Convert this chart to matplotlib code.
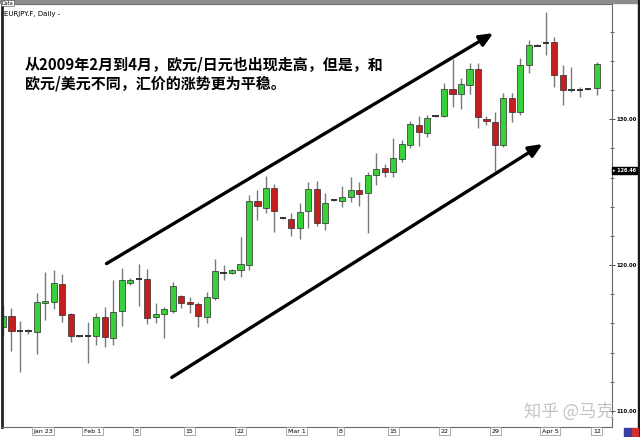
from matplotlib import pyplot as plt
import matplotlib.transforms as mtrans
import matplotlib.ticker as tck
import numpy as np

plt.rcParams['font.family'] = ['Noto Sans CJK SC', 'DejaVu Sans']

# EUR/JPY daily candles (open, high, low, close)
opens  = [115.75, 116.51, 115.48, 115.45, 115.41, 117.40, 117.47, 118.70, 116.64, 115.14,
          115.12, 115.14, 116.44, 115.00, 116.85, 118.77, 119.04, 119.04, 116.44, 116.64,
          116.85, 117.88, 117.47, 117.33, 116.44, 117.74, 119.45, 119.45, 119.66, 120.00,
          124.38, 123.90, 125.27, 123.22, 123.15, 122.53, 123.70, 125.21, 122.88, 124.45,
          124.38, 124.66, 125.14, 124.93, 126.16, 126.64, 126.37, 127.26, 128.22, 129.59,
          129.04, 130.21, 130.21, 132.05, 131.71, 132.33, 133.42, 130.00, 129.79, 128.22,
          131.44, 130.48, 133.70, 135.07, 135.27, 135.27, 133.01, 131.99, 132.05, 132.05,
          132.12]
highs  = [117.26, 117.05, 116.16, 115.62, 118.08, 119.52, 119.66, 119.38, 116.71, 115.21,
          116.10, 116.71, 117.12, 118.97, 119.79, 119.11, 120.07, 119.73, 117.40, 117.12,
          118.84, 117.95, 117.81, 117.47, 118.15, 120.41, 120.00, 119.73, 121.92, 124.79,
          125.14, 126.10, 125.55, 123.29, 123.56, 124.25, 125.68, 125.75, 124.93, 124.52,
          125.41, 126.03, 125.68, 126.37, 127.67, 126.92, 128.70, 128.56, 129.86, 130.21,
          130.27, 130.27, 132.47, 134.11, 132.81, 133.84, 133.84, 130.21, 130.48, 131.78,
          131.78, 134.18, 135.41, 135.14, 137.33, 135.62, 133.70, 133.56, 132.19, 132.12,
          133.90]
lows   = [115.21, 114.11, 112.67, 115.27, 113.90, 116.23, 116.99, 116.10, 114.73, 115.07,
          113.29, 114.52, 114.38, 114.52, 115.82, 118.63, 117.19, 115.96, 116.03, 115.00,
          116.71, 117.05, 116.71, 115.75, 116.03, 117.60, 118.97, 119.38, 119.18, 119.66,
          123.08, 123.56, 122.26, 123.15, 121.99, 121.78, 122.53, 122.67, 122.40, 124.38,
          123.97, 124.31, 124.04, 122.19, 125.48, 126.03, 126.03, 127.05, 128.01, 128.15,
          128.77, 130.14, 130.14, 130.82, 130.69, 131.71, 129.38, 129.59, 126.44, 128.08,
          129.79, 130.27, 133.15, 135.00, 134.38, 132.19, 130.96, 131.85, 131.51, 131.99,
          131.64]
closes = [116.51, 115.48, 115.45, 115.48, 117.47, 117.53, 118.77, 116.58, 115.14, 115.12,
          115.14, 116.44, 115.07, 116.78, 118.97, 118.97, 119.02, 116.37, 116.64, 116.99,
          118.56, 117.40, 117.33, 116.51, 117.81, 119.59, 119.43, 119.66, 120.07, 124.38,
          124.04, 125.27, 123.70, 123.20, 122.53, 123.63, 125.21, 122.88, 124.25, 124.43,
          124.66, 125.14, 124.86, 126.16, 126.58, 126.37, 127.33, 128.29, 129.66, 129.11,
          130.07, 130.19, 132.05, 131.71, 132.40, 133.42, 130.14, 129.86, 128.22, 131.44,
          130.48, 133.70, 135.07, 135.05, 135.25, 133.01, 131.99, 131.97, 132.03, 132.07,
          133.77]

date_ticks  = [4, 10, 16, 22, 28, 34, 40, 46, 52, 58, 64, 70]
date_labels = ['Jan 23', 'Feb 1', '8', '15', '22', 'Mar 1', '8', '15', '22', '29', 'Apr 5', '12']
last_price = 126.46

# trend arrows (bar index, price)
upper_arrow = [(12.2, 120.1), (57.8, 135.9)]
lower_arrow = [(19.9, 112.3), (63.6, 128.3)]

note = '从2009年2月到4月，欧元/日元也出现走高，但是，和\n欧元/美元不同，汇价的涨势更为平稳。'

fig = plt.figure(figsize=(6.4, 4.37), dpi=100)
ax = fig.add_axes([2/640, 10/437, 610/640, 423/437])

o = np.array(opens); h = np.array(highs); l = np.array(lows); c = np.array(closes)
x = np.arange(len(o))
up = c > o
doji = np.abs(c - o) < 0.05

ax.vlines(x, l, h, color='#7a7a7a', linewidth=1.0, zorder=1)
body_bot = np.minimum(o, c)
body_h = np.abs(c - o)
ax.bar(x[up & ~doji], body_h[up & ~doji], bottom=body_bot[up & ~doji], width=0.72,
       color='#39d039', edgecolor='#2a2a2a', linewidth=0.5, zorder=2)
ax.bar(x[~up & ~doji], body_h[~up & ~doji], bottom=body_bot[~up & ~doji], width=0.72,
       color='#c41e1e', edgecolor='#2a2a2a', linewidth=0.5, zorder=2)
ax.hlines(c[doji], x[doji] - 0.38, x[doji] + 0.38, color='#333333', linewidth=1.4, zorder=2)

for (x0, y0), (x1, y1) in [upper_arrow, lower_arrow]:
    ax.annotate('', xy=(x1, y1), xytext=(x0, y0),
                arrowprops=dict(arrowstyle='-|>,head_length=0.8,head_width=0.35',
                                color='black', lw=2.4, shrinkA=0, shrinkB=0))

ax.text(0.037, 0.875, note, transform=ax.transAxes, fontsize=10.8, fontweight='bold',
        va='top', ha='left', linespacing=1.2, color='black')

ax.set_xlim(-0.12, 71.8)
ax.set_ylim(108.9, 137.9)

# price scale on the right
ax.yaxis.tick_right()
ax.yaxis.set_major_locator(tck.MultipleLocator(10))
ax.yaxis.set_minor_locator(tck.MultipleLocator(2))
ax.yaxis.set_major_formatter(tck.FormatStrFormatter('%.2f'))
ax.tick_params(axis='y', which='major', direction='inout', length=5, width=0.6,
               labelsize=3.8, pad=1.0, colors='#333333', labelcolor='black')
ax.tick_params(axis='y', which='minor', direction='inout', length=3, width=0.6, colors='#555555')
for lab in ax.get_yticklabels():
    lab.set_fontweight('bold')
    lab.set_family('DejaVu Sans')

ax.set_xticks([])
blend = mtrans.blended_transform_factory(ax.transData, ax.transAxes)
for pos, lab in zip(date_ticks, date_labels):
    ax.text(pos - 0.45, -0.004, lab, transform=blend, fontsize=4.5, ha='left', va='top',
            family='DejaVu Sans',
            bbox=dict(boxstyle='square,pad=0.25', fc='white', ec='#8a8a8a', lw=0.5))

yblend = mtrans.blended_transform_factory(ax.transAxes, ax.transData)
ax.text(1.002, last_price, '\u25b8 %.2f' % last_price, transform=yblend, fontsize=3.5,
        color='white', fontweight='bold', ha='left', va='center', family='DejaVu Sans',
        bbox=dict(boxstyle='square,pad=0.2', fc='black', ec='black'))

for side in ['top', 'bottom', 'right']:
    ax.spines[side].set_color('#666666')
    ax.spines[side].set_linewidth(0.8)
ax.spines['left'].set_color('#222222')
ax.spines['left'].set_linewidth(2.0)

# chart header
ax.text(0.003, 0.983, 'EURJPY.F, Daily -', transform=ax.transAxes, fontsize=5,
        family='DejaVu Sans', ha='left', va='top')
fig.patches.append(plt.Rectangle((0, 434/437), 1, 3/437, transform=fig.transFigure,
                                 color='#8c8c8c', zorder=0))
fig.text(0.002, 0.998, 'Data', fontsize=3.5, family='DejaVu Sans', ha='left', va='top',
         bbox=dict(boxstyle='square,pad=0.1', fc='white', ec='#444444', lw=0.4))

# right edge strip and corner icon
fig.patches.append(plt.Rectangle((638/640, 0), 2/640, 1, transform=fig.transFigure,
                                 color='#1a1a1a', zorder=3))
fig.patches.append(plt.Rectangle((624/640, 0), 8/640, 9/437, transform=fig.transFigure,
                                 color='#3b3ba0', zorder=3))
fig.patches.append(plt.Rectangle((632/640, 0), 6/640, 9/437, transform=fig.transFigure,
                                 color='#d03030', zorder=3))

# watermark
fig.text(0.818, 0.058, '知乎 @马克', fontsize=12.5, color='#c4c4c4', ha='left', va='center')

fig.savefig('out.png', dpi=100)
